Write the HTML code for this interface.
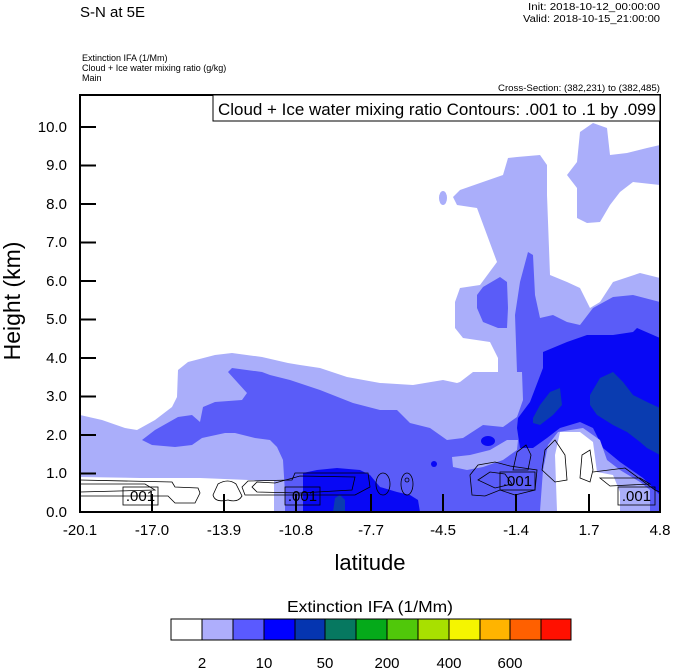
<!DOCTYPE html>
<html><head><meta charset="utf-8"><style>
html,body{margin:0;padding:0;background:#fff;}
svg{display:block;font-family:"Liberation Sans",sans-serif;}
</style></head><body>
<svg width="674" height="668" viewBox="0 0 674 668" xmlns="http://www.w3.org/2000/svg">
<rect width="674" height="668" fill="#fff"/>
<text x="80" y="17" font-size="15">S-N at 5E</text>
<text x="660" y="10" font-size="10" text-anchor="end" textLength="132" lengthAdjust="spacingAndGlyphs">Init: 2018-10-12_00:00:00</text>
<text x="660" y="22" font-size="10" text-anchor="end" textLength="137" lengthAdjust="spacingAndGlyphs">Valid: 2018-10-15_21:00:00</text>
<text x="82" y="61" font-size="9">Extinction IFA   (1/Mm)</text>
<text x="82" y="71" font-size="9">Cloud + Ice water mixing ratio   (g/kg)</text>
<text x="82" y="81" font-size="9">Main</text>
<text x="660" y="91" font-size="9" text-anchor="end" textLength="162" lengthAdjust="spacingAndGlyphs">Cross-Section: (382,231) to (382,485)</text>

<g stroke="none">
<polygon fill="#aaaefa" points="80,415 102,420 125,428 137,430 155,420 172,407 177,397 178,370 188,362 215,355 232,353 262,357 288,363 300,365 320,368 347,377 380,383 413,385 443,380 457,383 460,382 473,372 498,372 498,358 490,342 463,338 455,328 455,302 460,288 480,285 497,262 487,235 477,208 457,205 453,197 460,190 480,183 503,175 508,158 517,157 540,155 547,165 547,195 550,275 567,282 580,288 590,308 600,302 613,282 640,273 660,278 660,512 80,512"/>
<polygon fill="#aaaefa" points="567,175 577,162 580,132 593,123 607,128 610,155 627,153 647,148 660,145 660,185 633,182 620,192 610,205 600,222 587,223 577,218 577,188"/>
<ellipse cx="443" cy="198" rx="4" ry="7" fill="#aaaefa"/>
<polygon fill="#5a5cf8" points="142,440 155,430 178,417 192,415 200,422 203,407 215,402 242,400 247,393 228,372 232,368 262,372 270,375 290,380 320,390 353,403 380,410 397,410 410,423 430,428 447,440 463,438 483,425 503,427 517,417 523,400 522,372 517,372 515,315 520,282 528,252 533,255 535,295 540,318 553,315 567,322 580,325 593,308 613,297 633,295 660,302 660,512 285,512 285,493 283,460 277,447 270,440 255,438 235,433 225,433 202,438 192,445 175,447 152,445"/>
<polygon fill="#5a5cf8" points="477,295 483,287 500,277 507,282 508,308 507,328 498,328 483,322 477,308"/>
<polygon fill="#aaaefa" points="452,457 470,455 490,450 507,440 518,440 517,450 503,460 483,467 467,470 453,467"/>
<polygon fill="#0808f5" points="517,428 518,418 530,402 543,368 543,352 567,342 587,335 613,335 633,332 637,328 660,338 660,495 643,478 620,462 603,448 593,428 580,422 560,428 547,438 533,448 520,448"/>
<polygon fill="#0808f5" points="303,512 303,473 317,470 337,468 360,470 370,475 380,487 397,492 410,495 418,500 420,512"/>
<ellipse cx="488" cy="441" rx="7" ry="5" fill="#0808f5"/>
<circle cx="434" cy="464" r="3" fill="#0808f5"/>
<polygon fill="#0a3cb0" points="590,395 600,378 613,372 623,382 633,395 647,402 660,408 660,455 647,448 640,442 627,432 613,425 597,415 590,405"/>
<polygon fill="#0a3cb0" points="533,418 540,405 550,392 560,388 562,405 553,415 540,425 533,423"/>
<polygon fill="#0a3cb0" points="333,512 335,498 340,495 345,500 345,512"/>
<polygon fill="#aaaefa" points="540,511 543,470 548,445 558,432 583,428 600,440 607,460 620,470 640,482 650,490 650,511"/>
<polygon fill="#fff" points="557,511 555,455 560,432 580,432 593,442 597,472 613,475 620,492 620,511"/>
<polygon fill="#fff" points="80,477 140,478 200,478 274,481 274,512 80,512"/>
</g>

<g fill="none" stroke="#000" stroke-width="0.8">
<path d="M80,480 L172,482 L175,487 L198,488 L200,493 L195,503 L175,503 L168,496 L80,496"/>
<path d="M80,484 L145,484 L155,490 L80,492"/>
<path d="M218,484 Q228,478 236,484 L242,496 Q238,503 228,500 Q215,503 213,495 Z"/>
<path d="M242,487 L248,481 L292,480 L295,473 L368,473 L370,487 L355,495 L275,495 L245,495 Z"/>
<path d="M252,487 L257,482 L275,483 L300,476 L355,477 L352,490 L300,493 L257,492 Z"/>
<ellipse cx="383" cy="484" rx="7" ry="11"/>
<ellipse cx="407" cy="484" rx="6" ry="11"/>
<circle cx="407" cy="480" r="2"/>
<path d="M472,495 L470,475 L478,465 L495,462 L510,466 L537,470 L535,490 L515,495 L500,490 L485,496 Z"/>
<path d="M478,480 L490,472 L505,474 L512,484 L495,488 Z"/>
<path d="M513,470 L517,452 L526,445 L531,455 L528,470 Z"/>
<path d="M542,470 L545,450 L555,440 L565,455 L567,480 L555,482 Z"/>
<path d="M580,478 L582,455 L590,450 L593,470 L590,482 Z"/>
<path d="M593,472 L625,468 L655,490 L660,492"/>
<path d="M600,478 L640,478 L650,484 L610,486 Z"/>
</g>
<g font-size="15">
<rect x="123" y="487" width="35" height="18" fill="none" stroke="#000" stroke-width="0.8"/>
<text x="140.5" y="501" text-anchor="middle">.001</text>
<rect x="285" y="487" width="35" height="18" fill="none" stroke="#000" stroke-width="0.8"/>
<text x="302.5" y="501" text-anchor="middle">.001</text>
<rect x="500" y="472" width="35" height="18" fill="none" stroke="#000" stroke-width="0.8"/>
<text x="517.5" y="486" text-anchor="middle">.001</text>
<rect x="618" y="487" width="37" height="18" fill="none" stroke="#000" stroke-width="0.8"/>
<text x="636.5" y="501" text-anchor="middle">.001</text>
</g>

<rect x="80" y="95" width="580" height="417" fill="none" stroke="#000" stroke-width="2"/>
<rect x="213" y="95" width="447" height="26" fill="#fff" stroke="#000" stroke-width="1"/>
<text x="656" y="115" font-size="17" text-anchor="end" textLength="438" lengthAdjust="spacingAndGlyphs">Cloud + Ice water mixing ratio Contours: .001 to .1 by .099</text>

<g stroke="#000" stroke-width="2">
<line x1="80" y1="473.5" x2="96" y2="473.5"/><line x1="80" y1="435" x2="96" y2="435"/>
<line x1="80" y1="396.5" x2="96" y2="396.5"/><line x1="80" y1="358" x2="96" y2="358"/>
<line x1="80" y1="319.5" x2="96" y2="319.5"/><line x1="80" y1="281" x2="96" y2="281"/>
<line x1="80" y1="242.5" x2="96" y2="242.5"/><line x1="80" y1="204" x2="96" y2="204"/>
<line x1="80" y1="165.5" x2="96" y2="165.5"/><line x1="80" y1="127" x2="96" y2="127"/>
<line x1="152" y1="512" x2="152" y2="494"/><line x1="224" y1="512" x2="224" y2="494"/>
<line x1="296" y1="512" x2="296" y2="494"/><line x1="371" y1="512" x2="371" y2="494"/>
<line x1="443" y1="512" x2="443" y2="494"/><line x1="516" y1="512" x2="516" y2="494"/>
<line x1="589" y1="512" x2="589" y2="494"/>
</g>
<g font-size="15" text-anchor="end">
<text x="67" y="517">0.0</text><text x="67" y="478">1.0</text><text x="67" y="440">2.0</text>
<text x="67" y="401">3.0</text><text x="67" y="363">4.0</text><text x="67" y="324">5.0</text>
<text x="67" y="286">6.0</text><text x="67" y="247">7.0</text><text x="67" y="209">8.0</text>
<text x="67" y="170">9.0</text><text x="67" y="132">10.0</text>
</g>
<g font-size="15" text-anchor="middle">
<text x="80" y="535">-20.1</text><text x="152" y="535">-17.0</text><text x="224" y="535">-13.9</text>
<text x="296" y="535">-10.8</text><text x="371" y="535">-7.7</text><text x="443" y="535">-4.5</text>
<text x="516" y="535">-1.4</text><text x="589" y="535">1.7</text><text x="660" y="535">4.8</text>
</g>
<text x="370" y="570" font-size="22" text-anchor="middle">latitude</text>
<text transform="translate(20,301) rotate(-90)" font-size="23" text-anchor="middle">Height (km)</text>

<text x="370" y="612" font-size="16" text-anchor="middle" textLength="166" lengthAdjust="spacingAndGlyphs">Extinction IFA  (1/Mm)</text>
<g stroke="#000" stroke-width="1">
<rect x="171" y="619" width="31" height="21" fill="#fff"/>
<rect x="202" y="619" width="31" height="21" fill="#aeaefc"/>
<rect x="233" y="619" width="31" height="21" fill="#5a5aff"/>
<rect x="264" y="619" width="31" height="21" fill="#0000ff"/>
<rect x="295" y="619" width="30" height="21" fill="#0535b0"/>
<rect x="325" y="619" width="31" height="21" fill="#067860"/>
<rect x="356" y="619" width="31" height="21" fill="#05aa1a"/>
<rect x="387" y="619" width="31" height="21" fill="#50c80a"/>
<rect x="418" y="619" width="31" height="21" fill="#a8e000"/>
<rect x="449" y="619" width="31" height="21" fill="#f5f500"/>
<rect x="480" y="619" width="30" height="21" fill="#ffb400"/>
<rect x="510" y="619" width="31" height="21" fill="#ff6000"/>
<rect x="541" y="619" width="30" height="21" fill="#ff1000"/>
</g>
<g font-size="15" text-anchor="middle">
<text x="202" y="668">2</text><text x="264" y="668">10</text><text x="325" y="668">50</text>
<text x="387" y="668">200</text><text x="449" y="668">400</text><text x="510" y="668">600</text>
</g>
</svg>
</body></html>
